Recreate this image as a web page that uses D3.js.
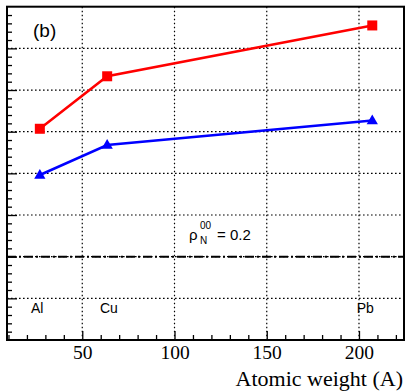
<!DOCTYPE html>
<html>
<head>
<meta charset="utf-8">
<script src="https://cdn.jsdelivr.net/npm/d3@7"></script>
<style>
  html, body { margin: 0; padding: 0; background: #fff; }
  svg { display: block; }
</style>
</head>
<body>
<svg id="chart" width="407" height="391"></svg>
<script>
// Nuclei and their atomic weights
const nuclei = ["Al", "Cu", "Pb"];
const atomicWeights = [27, 63.5, 207.2];
// Where each nucleus name is written along the A axis
const nucleusLabelA = [22.2, 59.6, 198.8];
// Two measured series (red squares, blue triangles)
const seriesSquares = [0.507, 0.633, 0.755];
const seriesTriangles = [0.396, 0.468, 0.527];
// Reference level
const refLevel = 0.2;
// Axis tick values
const xMajorTicks = [50, 100, 150, 200];
const yMajorTicks = [0.1, 0.2, 0.3, 0.4, 0.5, 0.6, 0.7];

const svg = d3.select("#chart");
const plotLeft = 7, plotRight = 404, plotTop = 6.7, plotBottom = 340;

const x = d3.scaleLinear().domain([9.2, 224.4]).range([plotLeft, plotRight]);
const y = d3.scaleLinear().domain([0, 0.8]).range([plotBottom, plotTop]);

// Dotted grid
const grid = svg.append("g").attr("stroke", "#000").attr("stroke-width", 1.2)
  .attr("stroke-dasharray", "1.6,2.4");
grid.selectAll("line.v").data(xMajorTicks).join("line").attr("class", "v")
  .attr("x1", d => x(d)).attr("x2", d => x(d)).attr("y1", plotTop).attr("y2", plotBottom);
grid.selectAll("line.h").data(yMajorTicks).join("line").attr("class", "h")
  .attr("x1", plotLeft).attr("x2", plotRight).attr("y1", d => y(d)).attr("y2", d => y(d));

// Reference dash-dot line
svg.append("line")
  .attr("x1", plotLeft).attr("x2", plotRight)
  .attr("y1", y(refLevel)).attr("y2", y(refLevel))
  .attr("stroke", "#000").attr("stroke-width", 2)
  .attr("stroke-dasharray", "9,3,2,3");

// Bottom axis: major and minor ticks pointing inward
const xMinor = d3.range(10, 225, 10).filter(v => v % 50 !== 0);
svg.append("g").attr("transform", `translate(0,${plotBottom})`)
  .call(d3.axisBottom(x).tickValues(xMinor).tickSize(-5).tickFormat(""))
  .call(g => g.select(".domain").remove())
  .selectAll("line").attr("stroke-width", 1.3);
svg.append("g").attr("transform", `translate(0,${plotBottom})`)
  .call(d3.axisBottom(x).tickValues(xMajorTicks).tickSize(-9).tickPadding(5))
  .call(g => g.select(".domain").remove())
  .call(g => g.selectAll("line").attr("stroke-width", 1.3))
  .call(g => g.selectAll("text")
    .attr("font-family", "'Liberation Serif', 'Times New Roman', serif")
    .attr("font-size", 19.5).attr("fill", "#000"));

// Left axis: major and minor ticks pointing inward, no labels
const yMinor = d3.range(0.02, 0.8, 0.02).filter(v => Math.abs(v * 10 - Math.round(v * 10)) > 1e-6);
svg.append("g").attr("transform", `translate(${plotLeft},0)`)
  .call(d3.axisLeft(y).tickValues(yMinor).tickSize(-5).tickFormat(""))
  .call(g => g.select(".domain").remove())
  .selectAll("line").attr("stroke-width", 1.3);
svg.append("g").attr("transform", `translate(${plotLeft},0)`)
  .call(d3.axisLeft(y).tickValues(yMajorTicks).tickSize(-10).tickFormat(""))
  .call(g => g.select(".domain").remove())
  .selectAll("line").attr("stroke-width", 1.3);

// Frame
svg.append("rect").attr("x", plotLeft).attr("y", plotTop)
  .attr("width", plotRight - plotLeft).attr("height", plotBottom - plotTop)
  .attr("fill", "none").attr("stroke", "#000").attr("stroke-width", 2);

const line = d3.line().x(d => x(d[0])).y(d => y(d[1]));

// Red series
const redPts = atomicWeights.map((a, i) => [a, seriesSquares[i]]);
svg.append("path").datum(redPts).attr("d", line)
  .attr("fill", "none").attr("stroke", "#ff0000").attr("stroke-width", 2.5);
svg.selectAll("rect.sq").data(redPts).join("rect").attr("class", "sq")
  .attr("x", d => x(d[0]) - 5).attr("y", d => y(d[1]) - 5)
  .attr("width", 10).attr("height", 10).attr("fill", "#ff0000");

// Blue series
const bluePts = atomicWeights.map((a, i) => [a, seriesTriangles[i]]);
svg.append("path").datum(bluePts).attr("d", line)
  .attr("fill", "none").attr("stroke", "#0000ff").attr("stroke-width", 2.5);
const tri = d3.symbol().type(d3.symbolTriangle).size(55);
svg.selectAll("path.tri").data(bluePts).join("path").attr("class", "tri")
  .attr("d", tri)
  .attr("transform", d => `translate(${x(d[0])},${y(d[1]) + 0.5})`)
  .attr("fill", "#0000ff");

// Panel label
svg.append("text").attr("x", 33).attr("y", 37)
  .attr("font-family", "'Liberation Sans', Arial, sans-serif").attr("font-size", 19)
  .text("(b)");

// Nucleus labels
svg.selectAll("text.nuc").data(nuclei).join("text").attr("class", "nuc")
  .attr("x", (d, i) => x(nucleusLabelA[i]))
  .attr("y", 313)
  .attr("font-family", "'Liberation Sans', Arial, sans-serif").attr("font-size", 14)
  .text(d => d);

// Reference label: rho_N^00 = 0.2
const lab = svg.append("g").attr("font-family", "'Liberation Sans', Arial, sans-serif");
lab.append("text").attr("x", 189).attr("y", 240).attr("font-size", 15).text("ρ");
lab.append("text").attr("x", 200).attr("y", 229).attr("font-size", 10).text("00");
lab.append("text").attr("x", 200).attr("y", 244).attr("font-size", 10).text("N");
lab.append("text").attr("x", 217).attr("y", 240).attr("font-size", 15).text("= " + refLevel);

// Axis title
svg.append("text").attr("x", 403).attr("y", 386).attr("text-anchor", "end")
  .attr("font-family", "'Liberation Serif', 'Times New Roman', serif").attr("font-size", 22)
  .text("Atomic weight (A)");
</script>
</body>
</html>
